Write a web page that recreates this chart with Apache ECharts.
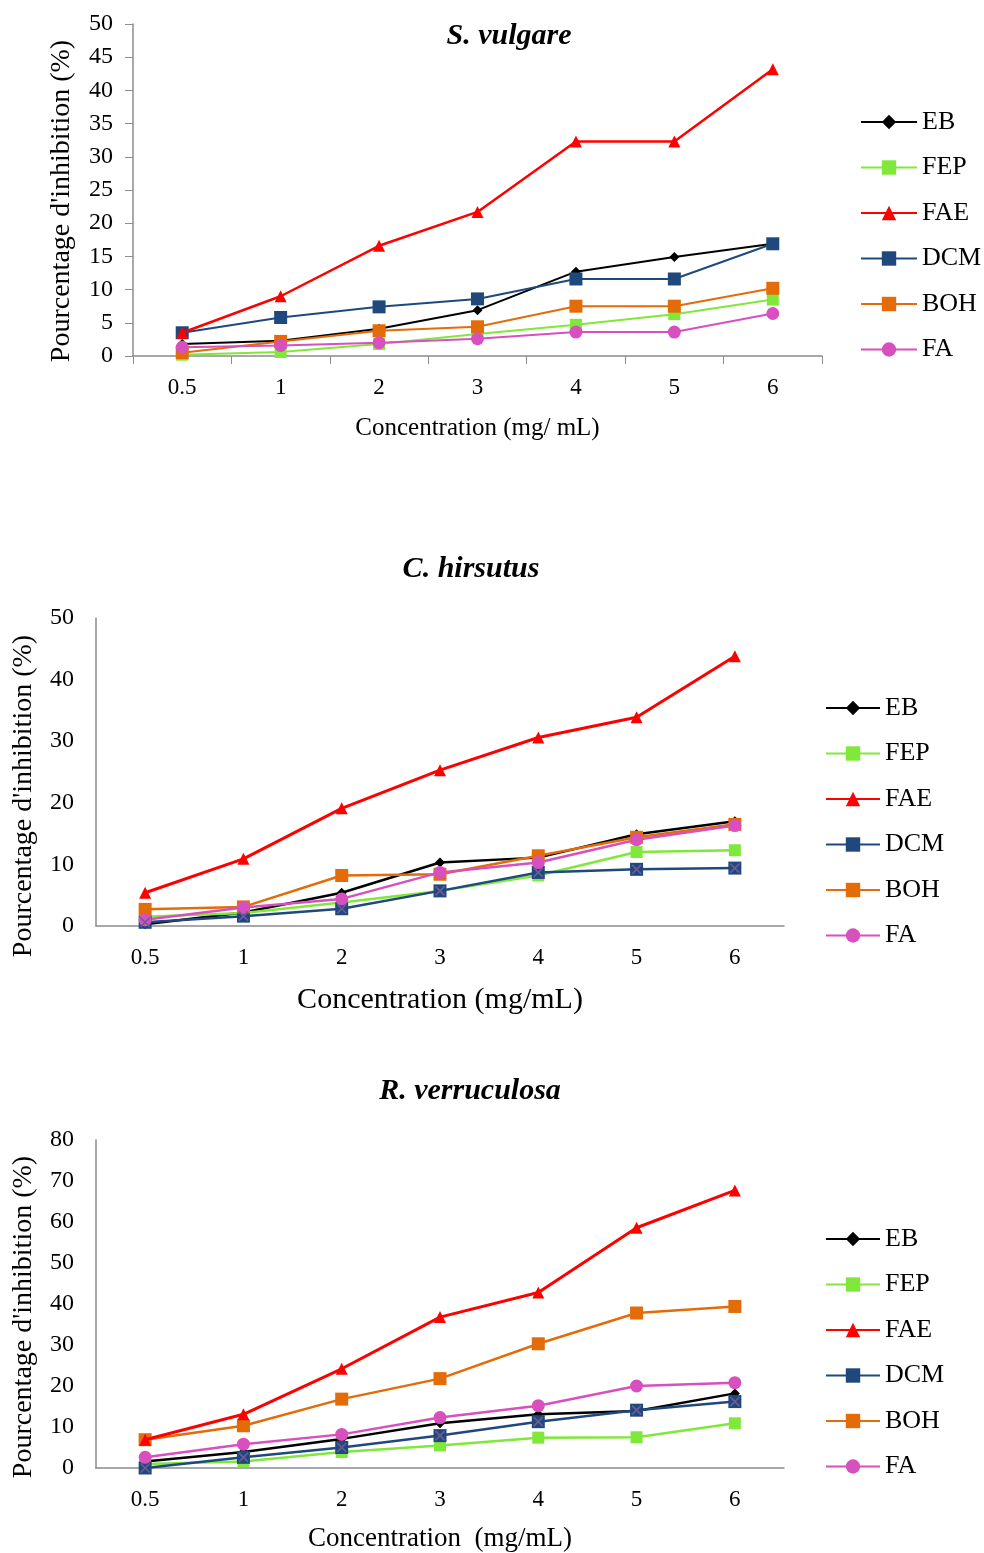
<!DOCTYPE html>
<html><head><meta charset="utf-8">
<script src="https://cdn.jsdelivr.net/npm/echarts@6/dist/echarts.min.js"></script>
<style>html,body{margin:0;padding:0;background:#fff}#c{width:984px;height:1553px}</style>
</head><body><div id="c"></div>
<script>
const categories = ['0.5','1','2','3','4','5','6'];
const seriesNames = ['EB','FEP','FAE','DCM','BOH','FA'];

// S. vulgare
const sv_EB  = [1.8, 2.3, 4.1, 6.9, 12.7, 14.9, 16.9];
const sv_FEP = [0.2, 0.6, 1.8, 3.3, 4.7, 6.3, 8.5];
const sv_FAE = [3.5, 9.0, 16.6, 21.7, 32.3, 32.3, 43.2];
const sv_DCM = [3.5, 5.8, 7.4, 8.6, 11.6, 11.6, 16.9];
const sv_BOH = [0.5, 2.2, 3.8, 4.4, 7.5, 7.5, 10.2];
const sv_FA  = [1.3, 1.6, 2.0, 2.6, 3.6, 3.6, 6.4];

// C. hirsutus
const ch_EB  = [0.3, 2.2, 5.4, 10.3, 11.1, 14.9, 17.0];
const ch_FEP = [1.5, 2.1, 3.8, 5.7, 8.2, 12.0, 12.3];
const ch_FAE = [5.4, 10.9, 19.1, 25.3, 30.6, 33.9, 43.8];
const ch_DCM = [0.6, 1.6, 2.8, 5.7, 8.7, 9.2, 9.4];
const ch_BOH = [2.7, 3.1, 8.2, 8.4, 11.4, 14.4, 16.5];
const ch_FA  = [1.0, 3.0, 4.4, 8.7, 10.3, 14.0, 16.3];

// R. verruculosa
const rv_EB  = [1.6, 3.9, 7.1, 10.9, 13.1, 13.9, 18.2];
const rv_FEP = [1.0, 1.6, 3.9, 5.5, 7.4, 7.5, 10.9];
const rv_FAE = [6.9, 13.1, 24.2, 36.8, 42.8, 58.6, 67.7];
const rv_DCM = [0.0, 2.6, 5.0, 7.9, 11.3, 14.1, 16.2];
const rv_BOH = [6.9, 10.3, 16.8, 21.8, 30.3, 37.8, 39.4];
const rv_FA  = [2.6, 5.8, 8.2, 12.3, 15.2, 20.0, 20.8];

const yTicks1 = [0, 50, 5];
const yTicks2 = [0, 50, 10];
const yTicks3 = [0, 80, 10];

const yName = "Pourcentage d'inhibition (%)";
const FONT = "'Liberation Serif','Times New Roman',serif";
const colors = {EB:'#000000', FEP:'#80E83A', FAE:'#FF0000', DCM:'#1F497D', BOH:'#E36C09', FA:'#D84FBE'};
const symbols = {EB:'diamond', FEP:'rect', FAE:'triangle', DCM:'rect', BOH:'rect', FA:'circle'};
const symSize = {EB:10, FEP:12, FAE:12, DCM:13, BOH:13, FA:13};
const AXIS = '#8c8c8c';

function mkSeries(idx, data, lw) {
  const out = [];
  seriesNames.forEach(function(n){
    out.push({
      name:n, type:'line', xAxisIndex:idx, yAxisIndex:idx, data:data[n],
      symbol:symbols[n], symbolSize:symSize[n], showSymbol:true,
      lineStyle:{color:colors[n], width:(n==='FAE'?lw+0.5:lw)},
      itemStyle:{color:colors[n]}, animation:false, z: (n==='FAE'?3:2)
    });
  });
  return out;
}
function xOverlay(idx, d) {
  return {name:'DCMx', type:'line', xAxisIndex:idx, yAxisIndex:idx, data:d,
    symbol:'path://M0,0L10,10M10,0L0,10', symbolSize:9, silent:true,
    lineStyle:{width:0, opacity:0},
    itemStyle:{color:'none', borderColor:'#6E5A98', borderWidth:1.6}, animation:false, z:5};
}
function xAxis(gi, name, nameSize, gap, ticks) {
  return {type:'category', gridIndex:gi, data:categories, boundaryGap:true,
    axisLine:{lineStyle:{color:AXIS, width:1.5}},
    axisTick:{show:ticks, length:8, lineStyle:{color:AXIS}},
    axisLabel:{color:'#000', fontFamily:FONT, fontSize:23, margin:20},
    name:name, nameLocation:'middle', nameGap:gap,
    nameTextStyle:{color:'#000', fontFamily:FONT, fontSize:nameSize}};
}
function yAxis(gi, t, ticks) {
  return {type:'value', gridIndex:gi, min:t[0], max:t[1], interval:t[2],
    axisLine:{show:true, lineStyle:{color:AXIS, width:1.5}},
    axisTick:{show:ticks, length:8, lineStyle:{color:AXIS}},
    splitLine:{show:false},
    axisLabel:{color:'#000', fontFamily:FONT, fontSize:24, margin:ticks?20:22}};
}
function legend(left, top, w) {
  return {orient:'vertical', left:left, top:top, padding:0, data:seriesNames, itemWidth:w, itemHeight:18,
    itemGap:19.5, textStyle:{color:'#000', fontFamily:FONT, fontSize:26, lineHeight:26}, selectedMode:false};
}
function title(text, cx, top) {
  return {text:text, left:cx, top:top, textAlign:'center', padding:0,
    textStyle:{fontFamily:FONT, fontSize:30, fontWeight:'bold', fontStyle:'italic', color:'#000'}};
}
function yNameText(cx, cy) {
  return {type:'text', x:cx, y:cy, rotation:Math.PI/2, silent:true,
    style:{text:yName, fontFamily:FONT, fontSize:28, fill:'#000', align:'center', verticalAlign:'middle'}};
}

const chart = echarts.init(document.getElementById('c'), null, {renderer:'canvas'});
chart.setOption({
  backgroundColor:'#fff',
  animation:false,
  title:[title('S. vulgare', 509, 21), title('C. hirsutus', 471, 554), title('R. verruculosa', 470, 1076)],
  legend:[legend(860, 109, 56), legend(825, 695, 54), legend(825, 1226, 54)],
  grid:[
    {left:133, right:162, top:24, bottom:1197},
    {left:96, right:200, top:618, bottom:627},
    {left:96, right:200, top:1140, bottom:83}
  ],
  xAxis:[xAxis(0,'Concentration (mg/ mL)',25,60,true), xAxis(1,'Concentration (mg/mL)',30,59,false), xAxis(2,'Concentration  (mg/mL)',27,57,false)],
  yAxis:[yAxis(0,yTicks1,true), yAxis(1,yTicks2,false), yAxis(2,yTicks3,false)],
  graphic:[yNameText(62, 201), yNameText(24, 796), yNameText(24, 1317)],
  series:[].concat(
    mkSeries(0,{EB:sv_EB,FEP:sv_FEP,FAE:sv_FAE,DCM:sv_DCM,BOH:sv_BOH,FA:sv_FA},2),
    mkSeries(1,{EB:ch_EB,FEP:ch_FEP,FAE:ch_FAE,DCM:ch_DCM,BOH:ch_BOH,FA:ch_FA},2.5),
    mkSeries(2,{EB:rv_EB,FEP:rv_FEP,FAE:rv_FAE,DCM:rv_DCM,BOH:rv_BOH,FA:rv_FA},2.5),
    [xOverlay(1,ch_DCM), xOverlay(2,rv_DCM)]
  )
});
</script></body></html>
